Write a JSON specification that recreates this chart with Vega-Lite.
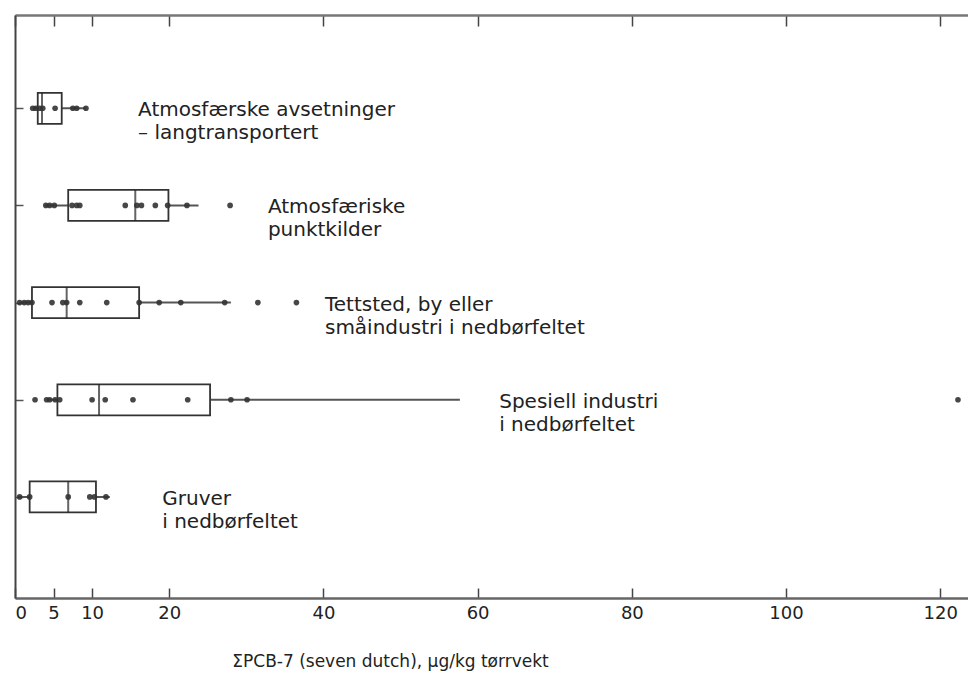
{
  "$schema": "https://vega.github.io/schema/vega-lite/v6.json",
  "width": 953,
  "height": 583,
  "autosize": {"type": "none"},
  "padding": {"left": 15, "top": 15, "right": 0, "bottom": 76},
  "background": "white",
  "config": {"view": {"stroke": null}, "font": "DejaVu Sans"},
  "resolve": {"axis": {"x": "independent"}},
  "datasets": {
    "stats": [
      {"group": "A", "min": 2.3, "q1": 2.95, "median": 3.5, "q3": 6.06, "max": 9.2, "label": "Atmosfærske avsetninger\n– langtransportert", "lx": 15.96},
      {"group": "B", "min": 3.9, "q1": 6.9, "median": 15.6, "q3": 19.9, "max": 23.8, "label": "Atmosfæriske\npunktkilder", "lx": 32.8},
      {"group": "C", "min": 0.6, "q1": 2.2, "median": 6.7, "q3": 16.1, "max": 28.0, "label": "Tettsted, by eller\nsmåindustri i nedbørfeltet", "lx": 40.2},
      {"group": "D", "min": 4.1, "q1": 5.5, "median": 10.9, "q3": 25.3, "max": 57.7, "label": "Spesiell industri\ni nedbørfeltet", "lx": 62.8},
      {"group": "E", "min": 0.4, "q1": 1.9, "median": 6.9, "q3": 10.5, "max": 12.3, "label": "Gruver\ni nedbørfeltet", "lx": 19.1}
    ],
    "pts": [
      {"group": "A", "v": 2.3}, {"group": "A", "v": 2.7}, {"group": "A", "v": 3.2}, {"group": "A", "v": 3.6}, {"group": "A", "v": 5.2}, {"group": "A", "v": 7.5}, {"group": "A", "v": 8.0}, {"group": "A", "v": 9.2},
      {"group": "B", "v": 4.0}, {"group": "B", "v": 4.5}, {"group": "B", "v": 5.1}, {"group": "B", "v": 7.4}, {"group": "B", "v": 8.0}, {"group": "B", "v": 8.4}, {"group": "B", "v": 14.3}, {"group": "B", "v": 15.8}, {"group": "B", "v": 16.4}, {"group": "B", "v": 18.2}, {"group": "B", "v": 19.8}, {"group": "B", "v": 22.3}, {"group": "B", "v": 27.9},
      {"group": "C", "v": 0.6}, {"group": "C", "v": 1.2}, {"group": "C", "v": 1.7}, {"group": "C", "v": 2.2}, {"group": "C", "v": 4.8}, {"group": "C", "v": 6.2}, {"group": "C", "v": 6.7}, {"group": "C", "v": 8.4}, {"group": "C", "v": 11.9}, {"group": "C", "v": 16.1}, {"group": "C", "v": 18.7}, {"group": "C", "v": 21.5}, {"group": "C", "v": 27.2}, {"group": "C", "v": 31.5}, {"group": "C", "v": 36.5},
      {"group": "D", "v": 2.6}, {"group": "D", "v": 4.1}, {"group": "D", "v": 4.5}, {"group": "D", "v": 5.2}, {"group": "D", "v": 5.8}, {"group": "D", "v": 10.0}, {"group": "D", "v": 11.7}, {"group": "D", "v": 15.3}, {"group": "D", "v": 22.4}, {"group": "D", "v": 28.0}, {"group": "D", "v": 30.1}, {"group": "D", "v": 122.3},
      {"group": "E", "v": 0.6}, {"group": "E", "v": 1.9}, {"group": "E", "v": 6.9}, {"group": "E", "v": 9.7}, {"group": "E", "v": 10.3}, {"group": "E", "v": 11.8}
    ]
  },
  "layer": [
    {
      "data": {"name": "stats"},
      "mark": {"type": "rule", "color": "#555", "strokeWidth": 2},
      "encoding": {
        "x": {
          "field": "min", "type": "quantitative",
          "scale": {"domain": [0, 123.6], "nice": false, "zero": false},
          "axis": {
            "values": [0, 5, 10, 20, 40, 60, 80, 100, 120],
            "grid": false, "tickSize": -10, "tickColor": "#444", "tickWidth": 1.5,
            "domainColor": "#666", "domainWidth": 2.5,
            "labelFontSize": 18, "labelColor": "#222", "labelPadding": 16, "labelFont": "DejaVu Sans",
            "title": "ΣPCB-7 (seven dutch), µg/kg tørrvekt",
            "titleFontSize": 17, "titleFontWeight": "normal", "titleColor": "#222",
            "titleX": 375, "titleY": 68, "titleAlign": "center", "titleBaseline": "alphabetic"
          }
        },
        "x2": {"field": "max"},
        "y": {
          "field": "group", "type": "nominal", "sort": ["A", "B", "C", "D", "E"],
          "scale": {"type": "point", "padding": 1.04, "align": 0.48},
          "axis": {"labels": false, "title": null, "tickSize": -8, "tickColor": "#555", "tickWidth": 1.5, "domainColor": "#444", "domainWidth": 2}
        }
      }
    },
    {
      "data": {"name": "stats"},
      "mark": {"type": "bar", "fill": "white", "stroke": "#333", "strokeWidth": 1.8, "size": 31},
      "encoding": {
        "x": {"field": "q1", "type": "quantitative", "axis": {"orient": "top", "values": [0, 5, 10, 20, 40, 60, 80, 100, 120], "labels": false, "grid": false, "title": null, "tickSize": -11, "tickColor": "#444", "tickWidth": 1.5, "domainColor": "#777", "domainWidth": 2.5}},
        "x2": {"field": "q3"},
        "y": {"field": "group", "type": "nominal", "sort": ["A", "B", "C", "D", "E"]}
      }
    },
    {
      "data": {"name": "stats"},
      "mark": {"type": "tick", "color": "#222", "thickness": 2, "size": 31, "orient": "vertical"},
      "encoding": {
        "x": {"field": "median", "type": "quantitative", "axis": null},
        "y": {"field": "group", "type": "nominal", "sort": ["A", "B", "C", "D", "E"]}
      }
    },
    {
      "data": {"name": "pts"},
      "mark": {"type": "circle", "color": "#333", "opacity": 0.9, "size": 32},
      "encoding": {
        "x": {"field": "v", "type": "quantitative", "axis": null},
        "y": {"field": "group", "type": "nominal", "sort": ["A", "B", "C", "D", "E"]}
      }
    },
    {
      "data": {"name": "stats"},
      "mark": {"type": "text", "align": "left", "baseline": "middle", "lineBreak": "\n", "fontSize": 20, "lineHeight": 23, "color": "#222", "font": "DejaVu Sans", "dy": 2},
      "encoding": {
        "x": {"field": "lx", "type": "quantitative", "axis": null},
        "y": {"field": "group", "type": "nominal", "sort": ["A", "B", "C", "D", "E"]},
        "text": {"field": "label"}
      }
    }
  ]
}
